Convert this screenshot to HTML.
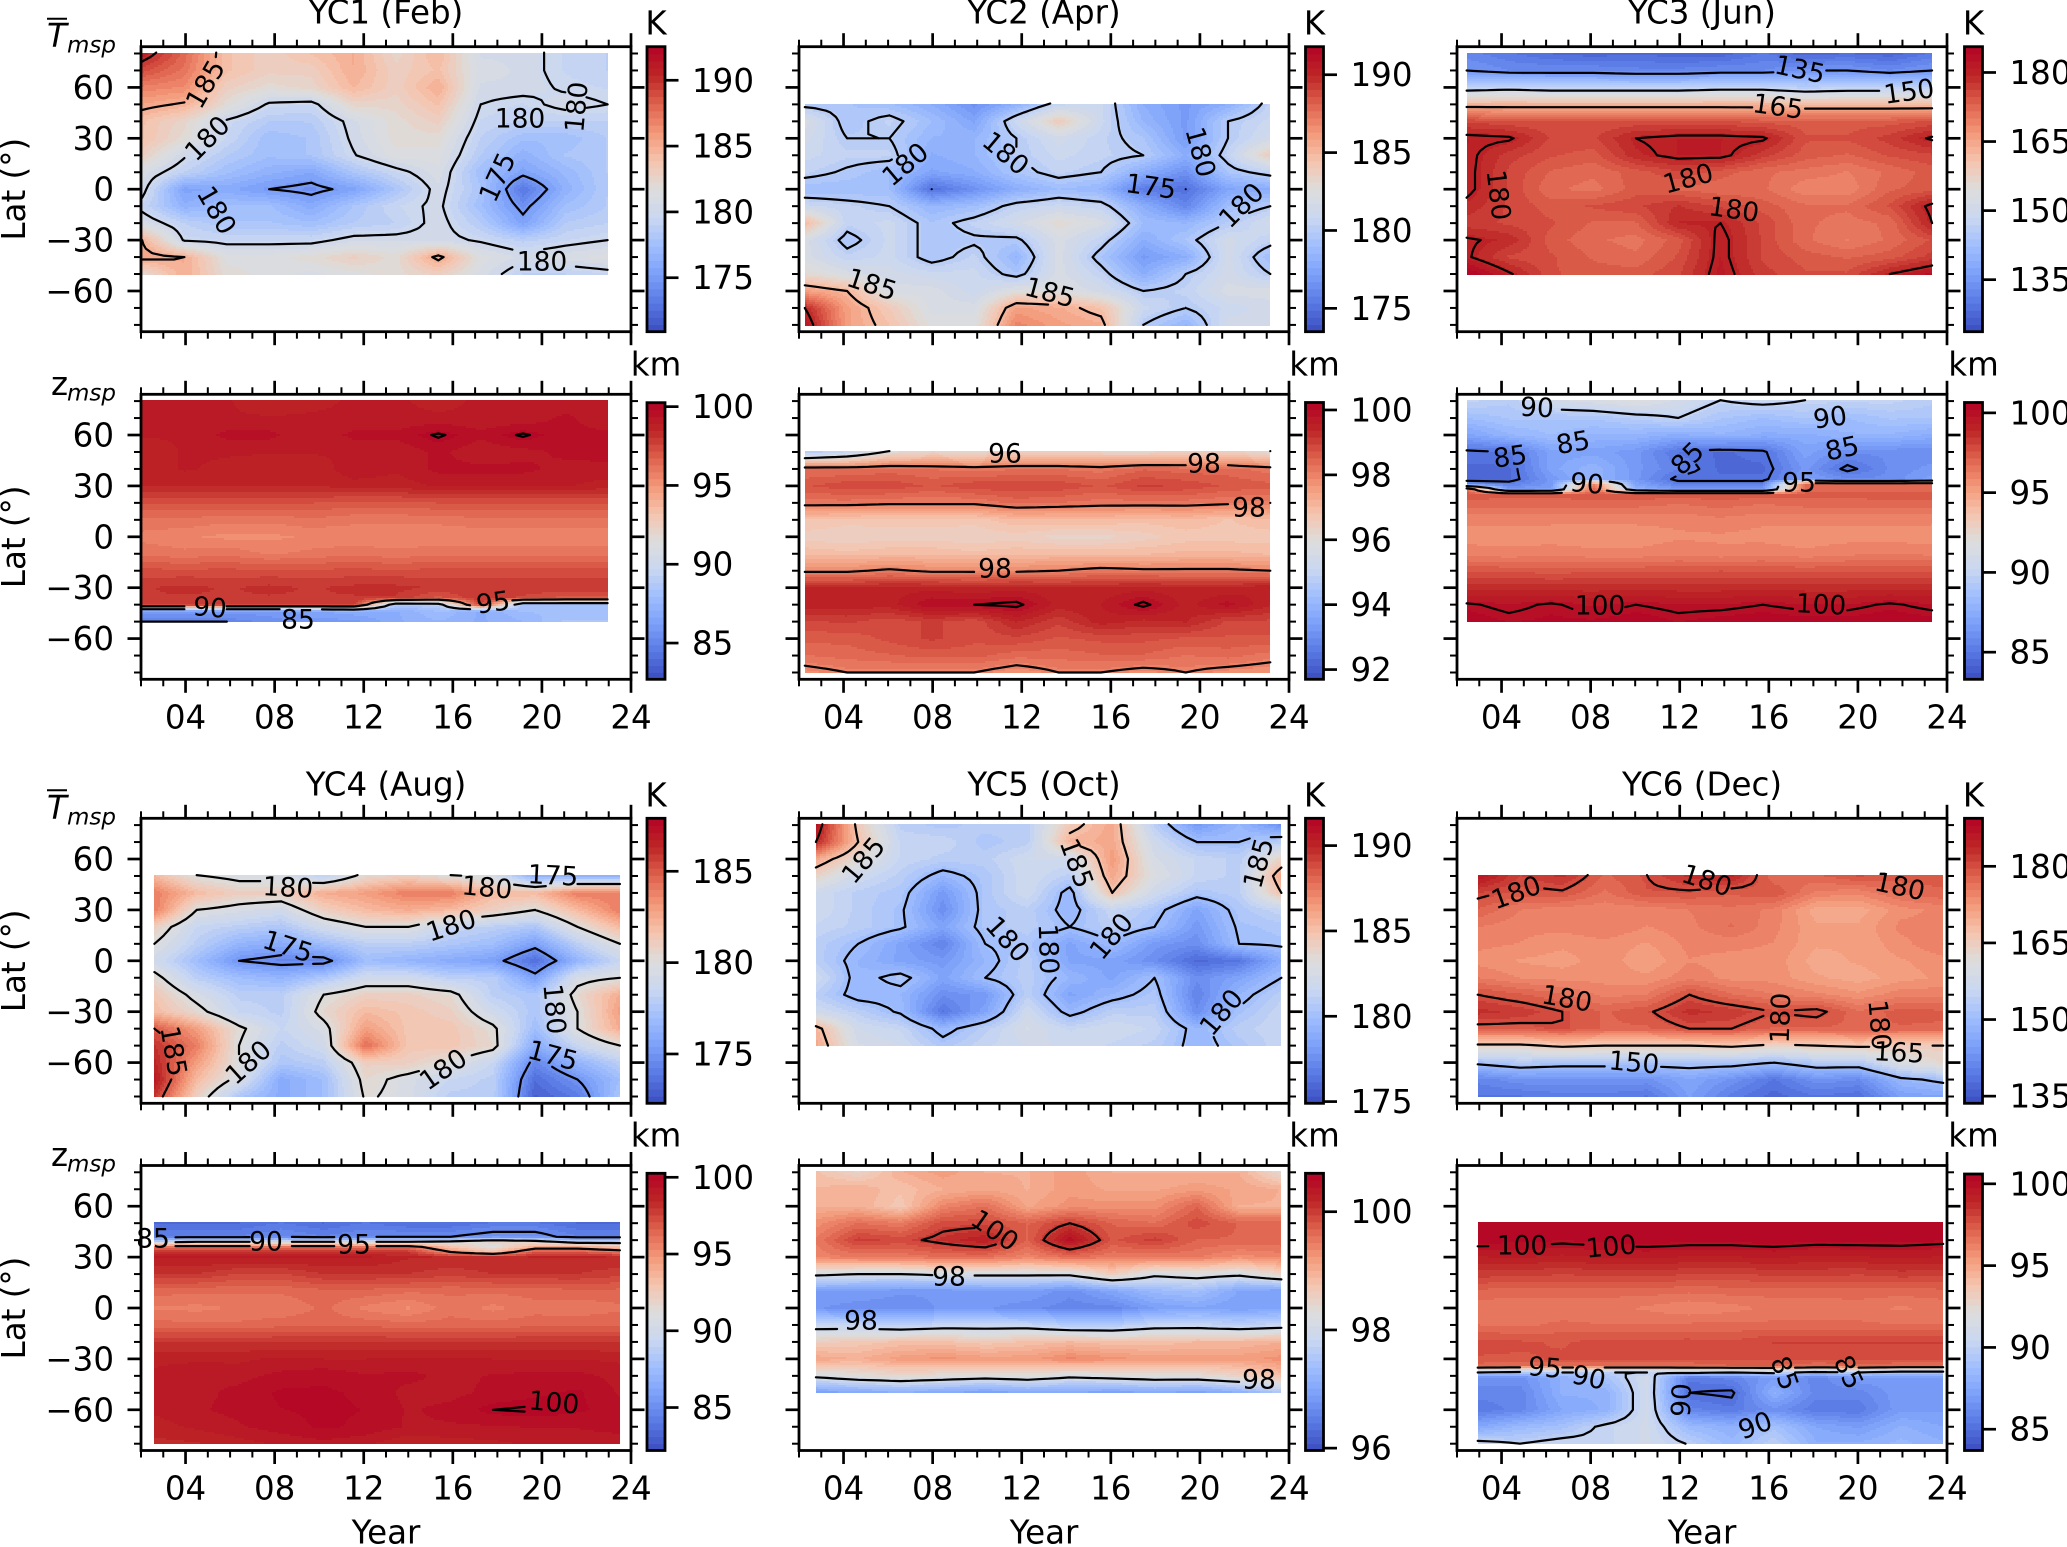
<!DOCTYPE html>
<html lang="en"><head><meta charset="utf-8"><title>Mesopause temperature and height by year and latitude</title>
<style>html,body{margin:0;padding:0;background:#fff}svg{display:block}text{font-family:"DejaVu Sans","Liberation Sans",sans-serif;fill:#000}</style></head>
<body>
<svg id="figure" xmlns="http://www.w3.org/2000/svg" width="2067" height="1547" viewBox="0 0 2067 1547"></svg>
<script>
// ---------- latitude rows (degrees) ----------
const latsNorth = [80.5,70,60,50,40,30,20,10,0,-10,-20,-30,-40,-50];
const latsSouth = [50.5,40,30,20,10,0,-10,-20,-30,-40,-50,-60,-70,-80];
const latsHeightFeb = [80.5,70,60,50,40,30,20,10,0,-10,-20,-30,-36,-40,-44,-50];
const latsHeightJun = [80.5,70,60,50,40,34,31,28,25,20,10,0,-10,-20,-30,-40,-50];
const latsHeightAug = [50.5,42,39,36,33,30,20,10,0,-10,-20,-30,-40,-50,-60,-70,-80];
const latsHeightDec = [50.5,40,30,20,10,0,-10,-20,-30,-34,-38,-41,-50,-60,-70,-80];

// ---------- axis tick labels ----------
const yearTicks = [2004,2008,2012,2016,2020,2024];
const yearTickLabels = ['04','08','12','16','20','24'];
const latTicks = [60,30,0,-30,-60];
const latTickLabels = ['60','30','0','\u221230','\u221260'];

// ---------- values: one row per latitude, 12 columns spanning the record ----------
const tempFeb = [
[191,188,184,183,184,185,182.5,184.5,180.5,180.5,179.5,179],
[189,187.5,184,183,183,185,183,184,181,180.5,179.5,179],
[187,186.5,183,182,182.5,184.5,183,185,180.5,180.5,179.8,179.5],
[185.5,184.8,182,179.8,179.5,182.5,182.5,184,180,179.5,180.5,180],
[184,182.5,179.8,178.5,178.5,180.5,182,183,179.5,179,179,179],
[184,182,179.5,177.5,178,180.3,182,182,179,177.5,177.5,178.5],
[183,180.2,178.5,177.5,178,179.9,181.5,181.5,178.5,176.5,178,178.5],
[181,179,177.5,176.5,175.8,178,179.5,181,177.5,175.5,177,178.5],
[180.5,175.5,176,175,174.5,175.5,178,180.5,178,173,176.5,178.5],
[179.5,176.5,177.5,177.5,176,178,179.5,180.3,177.5,174.5,177.5,178.5],
[181,179,178,178,177.5,178.5,179,180.5,178.5,175.5,178.5,179],
[185,179.8,179.5,179.5,179.5,180.5,180.5,180.5,179.8,178.8,179.5,180],
[185.5,185,181.5,181.5,182,183,182,185.5,181.5,180.5,181,181.5],
[182,185,182,181.5,181,181.5,182,183,181,179,179,179.5]];
const tempApr = [
[179.5,179.5,179,178,176.5,178,180.5,181,178,177,178,180.5],
[182,179.5,180.5,179,177.5,181,184,181,178.5,177,180,181],
[181.5,180,180,178.5,178.5,180,181.5,180.5,179.5,177,180,181.5],
[181,180.5,180.5,178,178.5,180,181,180.5,180,178,180.5,184],
[180.5,179.8,179,177.5,178,179.5,180.5,180,178,176.5,179.5,180.5],
[179,179,179,175,176.5,178,179,178.5,175.5,175,177.5,178],
[181,180.5,180,178.5,179,180.5,181,180.5,178,176,179,180],
[185,180.5,181,179.5,180.5,181.5,183,182,179,178.5,180,181.5],
[182,179.5,181,179.5,179.8,179.7,182,180.5,178,179.5,181.5,180.5],
[182,180.5,181,179.5,180.5,178.5,182,179.5,177,178,181.5,179],
[183,182,181.5,181,181,179.5,182,180.5,178,180,181.5,180],
[186,185,182,182,181,182.5,182.5,181.5,180,180.5,182,182],
[190,186,184,182,182,186,185.5,184.5,181,180,181,181.5],
[191,186,184.5,182.5,182.5,187,186,185.5,180,178.5,181.5,181.5]];
const tempJun = [
[132,130,128,127,128,127,127,130,127,128,127,130],
[135,133,133,133,132,132,133,133,135,135,133,135],
[147,148,147,147,147,147,148,148,146,147,147,147],
[163,163,163,163,163,163,163,163,162,162,162,162],
[176,175,175,175,175,175,175,174,174,174,174,175],
[181,180.5,176,176,180,181,181,180.5,175,175,177,180.5],
[181,177,175,174,179,181,181,177,174,173,175,176],
[181,176,173,172,174,176,174,172,171,170,172,174],
[181,176,172,171,174,173,172,172,169,169,173,174],
[179,176,174,175,176,178,176,174,172,172,175,181],
[177,176,175,173,173,179.5,180,176,172,171,172,180],
[180.5,179,174,172,171,174,181,176,172,170,172,175],
[180.5,176,175,173,172,175,181,176,174,173,174,177],
[186,180.5,175,174,174,176,181.5,177,175,175,180,183]];
const heightFeb = [
[99,99,99,98.5,98.8,99,99,98.8,99,99,99,99],
[99,99,99,99,99,99,99,99,99,99,99.5,99],
[99,99,99.5,99.5,99,99.5,99.5,100.1,99.5,100.1,99.5,99.5],
[98.5,99,99,99,99,99,99,99.5,99,99.2,99.5,99.5],
[98.5,99,98.8,98.5,98.5,99.3,99,99.5,99.5,99.5,99.2,99.3],
[98.5,98.5,98.5,98.5,98.5,98.7,98.7,99,99,99,99,98.7],
[97.2,97.2,97.2,97.2,97.2,97,97,97.2,97.2,97.2,97.2,97.2],
[96.2,96.2,96,96,96.2,96,96,96,96.2,96.2,96.2,96.2],
[95.7,95.5,95.3,95.3,95.5,95.5,95.5,95.5,95.5,95.5,95.5,95.5],
[96.2,96,96.2,95.8,96,96.2,96,96.2,96.2,96.2,96.2,96.2],
[97.3,97.3,97.3,97.3,97.3,97.3,97.3,97.3,97.3,97.3,97.3,97.3],
[98,98.2,98,98.2,98,98.2,98.2,98,98,98,98,98],
[98,98,98,98,98,98,98,97,98,97.5,97,97],
[98,98,98,98,98,98,88.5,89,98,88,88,88],
[86,86,86,86,86.5,87,87,88,87,88,88,88],
[85,85,85,85.5,86,86,87,87.5,87,87.5,88.5,88.5]];
const heightApr = [
[94.5,95,96,96.3,96.2,96.5,96.5,96.3,96.2,96.5,96.5,96],
[98.3,98.3,98.4,98.3,98.2,98.3,98.3,98.2,98.5,98.4,98.4,98.2],
[98.7,98.9,98.9,98.7,98.9,98.9,98.9,98.7,99,98.9,98.7,98.6],
[98.2,98.2,98.1,98.1,98.1,98.4,98.3,98.2,98.2,98.2,98.1,98],
[96.8,96.7,96.7,96.7,96.7,97,97,97,96.9,97,96.8,97],
[96.5,96.4,96.5,96.5,96.4,96.5,96.3,96.3,96.5,96.7,96.7,96.7],
[97,96.9,97,97,96.9,97,97,97,97,97.1,97.1,97],
[97.9,97.9,98.1,97.9,97.9,97.9,98,98.2,98.1,98.1,98.1,98],
[99.4,99.4,99.5,99.5,99.4,99.5,99.4,99.4,99.5,99.4,99.4,99.6],
[99.5,99.5,99.5,100,100,100.1,99.5,99.6,100.1,99.5,99.9,99.4],
[98.9,99,98.8,99,98.8,99.4,99,99.5,99.3,99.4,98.9,98.9],
[98.6,98.6,98.8,99,98.8,98.9,98.7,98.8,98.8,98.7,98.7,98.7],
[98.3,98.4,98.5,98.6,98.6,98.4,98.4,98.5,98.5,98.3,98.4,98.2],
[97.8,98,98,98,98,97.7,98,98,97.8,98,97.8,97.7]];
const heightJun = [
[90,89.5,91,91.5,92,91,90,90.5,90,90,90,89.5],
[88.5,89,89,89,89.5,90,89,88.5,89,88.5,89,89],
[87,88,88.5,88,88,87.5,88,87.5,87.5,88,88,87.5],
[84.8,85,87,87,86.5,85,84.5,84.8,87,86,86,86],
[84.5,84.5,87,88,86.5,85.5,84.5,84.5,86.5,84.7,86,86.5],
[84.5,84.5,86.5,88,86.5,84.7,84.7,84.7,87,86,86,87],
[86,85.5,86.5,96,87,85.5,85.5,85.5,97,97,97,97],
[97,86.5,87,97,88,86.5,86.5,86.5,97,97,97,97],
[97.5,97.3,97.3,97.5,97.5,97.5,97.5,97.5,97.3,97.3,97.5,97.5],
[97,97,97,97,97,96.8,97,96.8,97,97,97,97],
[96,96,96,96,96,96,96.2,96,96,96,96,96],
[95.6,95.7,95.6,95.6,95.6,95.8,95.8,95.7,95.6,95.7,95.7,95.6],
[96.2,96,96.2,96,96,96.2,96,96.2,96,96.2,96.3,96.2],
[97.5,97.5,97.4,97.5,97.5,97.5,97.6,97.5,97.5,97.5,97.5,97.5],
[98.7,98.8,98.7,98.7,98.8,98.7,98.7,98.8,98.7,98.7,98.8,98.8],
[100.1,99.8,100.1,99.7,100,99.8,99.8,100,99.8,99.8,100.1,99.8],
[100.5,100.2,100.3,100.3,100.5,100.2,100.4,100.5,100.4,100.4,100.5,100.4]];
const tempAug = [
[182,180,179.5,179.5,178,180.5,181,180,179.5,176,176,176],
[184,182,181,181,182.5,183,184,184,182,182,184,184],
[184,180,179.5,179,181,182,182.5,182,181,180,182,184],
[181,178.5,178,177.5,179,180,180,178.5,178,177.5,180,182],
[180,178,176.5,176,177,178,178,177.5,177,175.5,178,180],
[179,177,175,174.5,174.5,177,176.5,176,175.5,173.5,176.5,178.5],
[180.5,178,177,176.5,177.5,179,179,178,178,175.5,179.5,180],
[181.5,179.5,178,178,180,181,181,180.5,178,177.5,180.5,182.5],
[182,180.5,178.5,178,180.5,182,181.5,181,179,177.5,180,183],
[185,183,180.3,178.5,179.5,183,181.5,181.5,180.3,177,180,182.5],
[186,184,180,178,179,184.5,181.5,181.5,180.5,176,178.5,180],
[186.5,183,180,177.5,178,181,181,180,178.5,174.5,176.5,178],
[187,182,179.5,176,177,180.5,179.5,178.5,178,173.5,175,177],
[186,181,177.5,176,177,180.2,179.5,178,178,173,174,177.5]];
const tempOct = [
[191,184.5,181,180.5,181,181,184.5,186,181,178,179.5,177.5],
[190,185,181.5,181.5,180.5,181,185.5,186,182,180,180,181],
[186,183.5,181.5,181,181,182,182,186.5,182.5,181.5,181,184],
[184,182,181,179.5,180.5,182,181,186,183,181.5,181,186],
[182,181,180.5,178,180.5,182,179.5,185,182,180.5,181,185],
[182,181,180.2,177.5,180.5,181,179.5,181.5,180.5,178.5,180.5,181.5],
[181.5,181,180.2,178.5,180.5,181,180,181,180,178,180.2,180.5],
[181,180,178.5,177,180,180.5,178.5,179.8,178,177.5,180,180.2],
[181,179.5,178.5,178,179.5,181,178.5,178.5,177.5,176,176.5,179],
[182,179.5,180.5,178.5,180,181,179.5,178.5,180,177.5,178.5,180],
[181,179.5,179.5,177.5,178,181,178.5,179.5,180.5,177,179.5,181],
[182,181,179.8,176.5,178.5,182,179.5,181,181,177.5,180.2,181.5],
[185.5,182,181.5,179.5,181,182.5,181.5,182,181.5,179.5,181,181.5],
[186,182.5,182,180.5,181.5,182,182,181.5,181,179.5,180.5,181.5]];
const tempDec = [
[187,181,183,178,180,183,184.5,177,178,180,179,179],
[181,179,179.5,176.5,179.5,179.5,178.5,179.5,175,174.5,177,178],
[178,175.5,174.5,174.5,174.5,175.5,176.5,175,170.5,170.5,173.5,174.5],
[175.5,174.5,174.5,175.5,174,175,177,174.5,171.5,171.5,174.5,174.5],
[174.5,174,173,173.5,172.5,174.5,174.5,174,171.5,171.5,173.5,175.5],
[173.5,172.5,172,173.5,171.5,174,173.5,173.5,170.5,171.5,172.5,173.5],
[175.5,174,173.5,173.5,173,175,173.5,173.5,171.5,170.5,172,173],
[180,178.5,177,175,175.5,180,177,175.5,174.5,173,175,175],
[183,182,180,178,179.5,183,182,180,181,177,179,178.5],
[179,179,180,178,178,180,180,178,178,178,178,178],
[164,164,166,165,165,165,166,164,165,166,165,165],
[151,153,152,152,152,152,152,150,153,153,160,163],
[141,143,143,143,143,146,143,139,143,142,149,151],
[139,139,140,140,139,145,140,137,139,138,145,146]];
const heightAug = [
[83.5,83.5,83.5,84,83.5,84,83.5,83.5,84,84,83.5,83.5],
[84.5,84.5,84.5,85,84.5,85,85,85,85.5,85.5,84.5,84.5],
[89,90,90,90,90,90,90,90.5,92,91,89,89],
[96,96,96,96,96,96,96,93,91,94,94,93],
[98,98,98,98,98,98,98,95,93,97,97,96],
[99,99,99,99,99,99,98.5,98.5,98.5,98.5,98.5,98.5],
[98,98,97.5,97.5,98,98,98,97.7,98,98,98,97.7],
[96.4,96.3,96.3,96.3,96.5,96.5,96.3,96.3,96.3,96.4,96.5,96.5],
[95.7,95.6,95.8,95.8,96.3,95.6,95.2,96,95.6,96,95.9,96.1],
[96.4,96.3,96.3,96.5,96.5,96.5,96.4,96.4,96.4,96.5,96.5,96.6],
[98,98,98,98,98,98,98,98,98,98,98,98],
[98.8,98.8,98.8,99,98.9,98.9,99,99,98.9,98.9,98.9,98.8],
[99,99.3,99.2,99.5,99.7,99.4,99.5,99.2,99.4,99.5,99.5,99.2],
[99.1,99.2,99.5,99.9,99.9,99.7,99.2,99.2,99.5,99.7,99.9,99.3],
[99,99.3,99.5,99.8,99.9,99.8,99.3,99.5,100,100.1,99.9,99.6],
[98.7,99,99.3,99.6,99.9,99.7,99.3,99.3,99.3,99.4,99.4,99.6],
[98.3,98.4,98.7,99,99.2,99,98.5,98.7,98.8,99,99,99]];
const heightOct = [
[98.8,98.5,99,99.2,99,99,99.2,99,99,99,99,98.4],
[98.9,99,98.8,99,99.1,99,99.2,99.1,99.1,99.2,99.1,99],
[99,99,98.7,99.4,99.6,99.1,99.3,99.3,99.3,99.7,99,99],
[99.3,99.6,99.5,99.9,99.9,99.7,100,99.7,99.6,99.9,99.7,99.7],
[99.5,100,99.9,100.1,100.3,99.7,100.5,99.8,100,99.7,99.7,99.7],
[99.4,99.5,99.5,99.6,99.6,99.4,99.6,99.5,99.5,99.5,99.3,99.4],
[98.1,98,98,98.1,98.1,98.1,98.1,98.6,98.1,98.2,98.1,98.5],
[96.9,96.9,96.8,96.8,96.9,96.9,96.7,97,97.3,97.4,97,96.9],
[96.8,96.7,96.7,96.8,96.8,96.7,96.6,96.6,96.9,97,96.9,97],
[97.8,97.8,97.7,97.8,97.8,97.8,97.6,97.6,97.8,97.8,97.7,97.8],
[98.6,98.7,98.8,98.8,98.7,98.8,98.9,98.8,98.8,98.9,98.9,99],
[99.1,99,99.2,99.3,99.2,99.2,99.4,99.3,99.2,99.2,99.2,99.3],
[98.1,98.3,98.4,98.3,98.2,98.3,98.1,98.2,98.3,98.3,98.5,98.8],
[96.9,97,97.1,97,96.9,97,97,96.9,97,96.9,97.1,97.5]];
const heightDec = [
[100.3,100.6,100.4,100.5,100.6,100.6,100.6,100.6,100.6,100.5,100.2,100.3],
[100.4,100.3,100.2,100.3,100.4,100.3,100.3,100.4,100.3,100.3,100.3,100.2],
[99.3,99.4,99.2,99.4,99.4,99.3,99.3,99.4,99.2,99.3,99.4,99.3],
[98.3,98.2,98.1,98.2,98.2,98.1,98,98.2,98.2,98.1,98.3,98.2],
[97.1,97,97,97,97,96.9,97,97,97,97.1,97,97.1],
[96.5,96.5,96.5,96.5,96.3,96,96.2,96.5,96.5,96.5,96.3,96.5],
[96.8,96.7,96.9,96.8,96.8,96.9,96.9,96.9,96.9,96.9,96.8,96.8],
[97.8,97.7,97.6,97.8,97.8,97.8,97.7,98.1,98.1,98.1,98.1,98.1],
[97.6,97.6,97.7,97.8,97.8,97.8,97.8,97.8,97.8,97.8,97.8,97.8],
[97,96.8,96.8,96.8,96.8,96.8,97.2,97.2,96.8,97,96.8,96.8],
[90,89.5,90,90,90,90.5,90,90.5,89.5,90,89,89],
[86.5,86.5,88,89,91,85.5,86,87,86,87,87,87],
[86,86,88,88,91,85,84.8,88,86,86,87,87],
[85.5,86,87.5,88,91,86,85.5,86.5,85.5,85.5,87,87],
[87.5,88.5,89,90.3,91,88.5,88,89,87.5,87,88,87.5],
[90.5,90,90.5,90.3,91,89.9,88.5,90,88,88,88.5,88]];

// ---------- colour-bar ticks and contour levels ----------
const cbTicksTempFeb = [190,185,180,175];
const cbTicksTempApr = [190,185,180,175];
const cbTicksTempJun = [180,165,150,135];
const cbTicksHeightFeb = [100,95,90,85];
const cbTicksHeightApr = [100,98,96,94,92];
const cbTicksHeightJun = [100,95,90,85];
const cbTicksTempAug = [185,180,175];
const cbTicksTempOct = [190,185,180,175];
const cbTicksTempDec = [180,165,150,135];
const cbTicksHeightAug = [100,95,90,85];
const cbTicksHeightOct = [100,98,96];
const cbTicksHeightDec = [100,95,90,85];

// ---------- printed contour labels: [text, page x, page y, rotation] ----------
const labelsTempFeb = [['185',205,84,-60],['180',207,138,-45],['180',217,210,60],['180',520,118,0],['180',576,107,-85],['175',497,177,-65],['180',542,261,0]];
const labelsTempApr = [['180',905,164,-40],['180',1006,153,40],['180',1201,152,75],['175',1151,186,8],['180',1241,205,-45],['185',872,284,18],['185',1050,292,15]];
const labelsTempJun = [['135',1800,69,12],['150',1909,91,-8],['165',1778,106,8],['180',1688,178,-15],['180',1734,209,8],['180',1499,195,83]];
const labelsHeightFeb = [['90',210,607,5],['85',298,619,0],['95',493,602,-8]];
const labelsHeightApr = [['96',1005,453,0],['98',1204,463,0],['98',1249,507,0],['98',995,568,0]];
const labelsHeightJun = [['90',1537,407,3],['90',1830,417,-8],['85',1510,456,-8],['85',1573,442,-10],['85',1687,458,-45],['85',1842,448,-12],['90',1587,483,5],['95',1799,482,0],['100',1600,605,0],['100',1821,604,3]];
const labelsTempAug = [['180',288,887,3],['180',487,887,5],['175',553,875,3],['180',451,925,-18],['175',288,946,18],['180',555,1009,85],['185',174,1051,80],['180',248,1062,-42],['180',443,1069,-35],['175',553,1055,15]];
const labelsTempOct = [['185',863,860,-50],['185',1077,863,70],['185',1258,863,-75],['180',1008,939,48],['180',1049,949,88],['180',1111,936,-50],['180',1221,1012,-50]];
const labelsTempDec = [['180',1516,892,-20],['180',1707,880,18],['180',1900,886,12],['180',1567,998,10],['180',1780,1018,-88],['180',1880,1025,85],['165',1899,1052,3],['150',1634,1062,5]];
const labelsHeightAug = [['85',153,1238,0],['90',266,1241,0],['95',354,1244,0],['100',554,1402,5]];
const labelsHeightOct = [['100',995,1230,35],['98',949,1276,0],['98',861,1320,0],['98',1259,1379,0]];
const labelsHeightDec = [['100',1522,1245,0],['100',1611,1246,-5],['95',1545,1367,5],['90',1589,1377,12],['85',1785,1373,70],['85',1849,1372,65],['90',1681,1400,-88],['90',1755,1425,-20]];

// ---------- panel layout ----------
const COL_LEFT = [141,799,1457];
const ROW_TOP = [46.7,394.3,818.3,1165.5];
const AX_W = 490, AX_H = 285, YEAR0 = 2002, YEAR1 = 2024, LAT_MAX = 84;
const CB_LEFT = [647,1305.5,1964.5], CB_W = 18;
const panels = [
 {key:'temp-feb',col:0,row:0,title:'YC1 (Feb)',unit:'K',start:2002.05,lats:latsNorth,values:tempFeb,levels:[175,180,185,190],vmin:170.9,vmax:192.55,cbTop:46.7,cbTicks:cbTicksTempFeb,labels:labelsTempFeb},
 {key:'temp-apr',col:1,row:0,title:'YC2 (Apr)',unit:'K',start:2002.26,lats:latsSouth,values:tempApr,levels:[175,180,185,190],vmin:173.5,vmax:191.8,cbTop:46.7,cbTicks:cbTicksTempApr,labels:labelsTempApr},
 {key:'temp-jun',col:2,row:0,title:'YC3 (Jun)',unit:'K',start:2002.43,lats:latsNorth,values:tempJun,levels:[135,150,165,180],vmin:123.7,vmax:185.6,cbTop:46.7,cbTicks:cbTicksTempJun,labels:labelsTempJun},
 {key:'height-feb',col:0,row:1,unit:'km',start:2002.05,lats:latsHeightFeb,values:heightFeb,levels:[85,90,95,100],vmin:82.7,vmax:100.25,cbTop:402.7,cbTicks:cbTicksHeightFeb,labels:labelsHeightFeb},
 {key:'height-apr',col:1,row:1,unit:'km',start:2002.26,lats:latsSouth,values:heightApr,levels:[92,94,96,98,100],vmin:91.7,vmax:100.23,cbTop:402.5,cbTicks:cbTicksHeightApr,labels:labelsHeightApr},
 {key:'height-jun',col:2,row:1,unit:'km',start:2002.43,lats:latsHeightJun,values:heightJun,levels:[85,90,95,100],vmin:83.3,vmax:100.65,cbTop:402.5,cbTicks:cbTicksHeightJun,labels:labelsHeightJun},
 {key:'temp-aug',col:0,row:2,title:'YC4 (Aug)',unit:'K',start:2002.6,lats:latsSouth,values:tempAug,levels:[175,180,185],vmin:172.3,vmax:187.9,cbTop:818.3,cbTicks:cbTicksTempAug,labels:labelsTempAug},
 {key:'temp-oct',col:1,row:2,title:'YC5 (Oct)',unit:'K',start:2002.76,lats:latsNorth,values:tempOct,levels:[175,180,185,190],vmin:174.9,vmax:191.6,cbTop:818.3,cbTicks:cbTicksTempOct,labels:labelsTempOct},
 {key:'temp-dec',col:2,row:2,title:'YC6 (Dec)',unit:'K',start:2002.93,lats:latsSouth,values:tempDec,levels:[135,150,165,180],vmin:133.6,vmax:189.4,cbTop:818.3,cbTicks:cbTicksTempDec,labels:labelsTempDec},
 {key:'height-aug',col:0,row:3,unit:'km',start:2002.6,lats:latsHeightAug,values:heightAug,levels:[85,90,95,100],vmin:82.2,vmax:100.26,cbTop:1173.3,cbTicks:cbTicksHeightAug,labels:labelsHeightAug},
 {key:'height-oct',col:1,row:3,unit:'km',start:2002.76,lats:latsNorth,values:heightOct,levels:[96,98,100],vmin:95.96,vmax:100.65,cbTop:1173.3,cbTicks:cbTicksHeightOct,labels:labelsHeightOct},
 {key:'height-dec',col:2,row:3,unit:'km',start:2002.93,lats:latsHeightDec,values:heightDec,levels:[85,90,95,100],vmin:83.7,vmax:100.6,cbTop:1174,cbTicks:cbTicksHeightDec,labels:labelsHeightDec}
];
const YEAR_SPAN = 20.9, BANDS = 40, FS = 32.5, LABEL_FS = 26.5;
const COOLWARM = [[59,76,192],[88,120,226],[123,159,249],[160,190,254],[201,215,240],[221,221,221],[245,196,173],[244,152,122],[222,97,77],[189,37,38],[180,4,38]];

const NS = 'http://www.w3.org/2000/svg';
const fig = document.getElementById('figure');
function mk(tag, parent, attrs){
  const el = document.createElementNS(NS, tag);
  for (const k in attrs) el.setAttribute(k, attrs[k]);
  parent.appendChild(el);
  return el;
}
function colorAt(t){
  t = Math.max(0, Math.min(1, t)) * (COOLWARM.length - 1);
  const i = Math.min(COOLWARM.length - 2, Math.floor(t)), f = t - i;
  const c = COOLWARM[i].map((v, k) => Math.round(v + (COOLWARM[i + 1][k] - v) * f));
  return 'rgb(' + c.join(',') + ')';
}
function bandColor(v, vmin, vmax){
  const t = (v - vmin) / (vmax - vmin);
  const b = Math.max(0, Math.min(BANDS - 1, Math.floor(t * BANDS)));
  return colorAt((b + 0.5) / BANDS);
}
function sampleAt(p, colF, lat){
  const lats = p.lats, vals = p.values;
  let r = 0;
  while (r < lats.length - 2 && lat < lats[r + 1]) r++;
  const ft = Math.max(0, Math.min(1, (lats[r] - lat) / (lats[r] - lats[r + 1])));
  const nC = vals[0].length;
  const c = Math.max(0, Math.min(nC - 2, Math.floor(colF)));
  const fc = Math.max(0, Math.min(1, colF - c));
  const a = vals[r][c], b = vals[r][c + 1], d = vals[r + 1][c], e = vals[r + 1][c + 1];
  return (a * (1 - fc) + b * fc) * (1 - ft) + (d * (1 - fc) + e * fc) * ft;
}

function drawPanel(p){
  const left = COL_LEFT[p.col], top = ROW_TOP[p.row], right = left + AX_W, bottom = top + AX_H;
  const xAxis = y => left + (y - YEAR0) / (YEAR1 - YEAR0) * AX_W;
  const yAxis = l => top + AX_H / 2 - l / (2 * LAT_MAX) * AX_H;
  const invLat = py => (top + AX_H / 2 - py) / AX_H * 2 * LAT_MAX;
  const nC = p.values[0].length;
  const colToYear = c => p.start + YEAR_SPAN * c / (nC - 1);
  const yearToCol = y => (y - p.start) / YEAR_SPAN * (nC - 1);

  const g = mk('g', fig, {});
  
  

  // filled field: horizontal runs of equal colour band
  const hg = mk('g', g, {'shape-rendering':'crispEdges'});
  
  
  const x0 = Math.round(xAxis(p.start)), x1 = Math.round(xAxis(p.start + YEAR_SPAN));
  const y0 = Math.round(yAxis(p.lats[0])), y1 = Math.round(yAxis(p.lats[p.lats.length - 1]));
  const STEP = 2;
  const invYear = px => YEAR0 + (px - left) / AX_W * (YEAR1 - YEAR0);
  const addCell = (x, y, w, color) => {
    const cell = mk('rect', hg, {x:x, y:y, width:w, height:STEP, fill:color});
    
    
  };
  for (let py = y0; py < y1; py += STEP){
    const lat = invLat(py + STEP / 2);
    let runStart = x0, runColor = null;
    for (let px = x0; px < x1; px += STEP){
      const col = bandColor(sampleAt(p, yearToCol(invYear(px + STEP / 2)), lat), p.vmin, p.vmax);
      if (col !== runColor){
        if (runColor !== null) addCell(runStart, py, px - runStart, runColor);
        runStart = px; runColor = col;
      }
    }
    if (runColor !== null) addCell(runStart, py, x1 - runStart, runColor);
  }

  // contours by marching squares on a refined grid
  const SUB = 4, latF = [], colF = [];
  for (let i = 0; i < p.lats.length - 1; i++) for (let s = 0; s < SUB; s++) latF.push(p.lats[i] + (p.lats[i + 1] - p.lats[i]) * s / SUB);
  latF.push(p.lats[p.lats.length - 1]);
  for (let c = 0; c <= (nC - 1) * SUB; c++) colF.push(c / SUB);
  const F = latF.map(l => colF.map(c => sampleAt(p, c, l)));
  const hidden = (mx, my) => p.labels.some(L => {
    const a = L[3] * Math.PI / 180, dx = mx - L[1], dy = my - L[2];
    const u = dx * Math.cos(a) + dy * Math.sin(a), v = -dx * Math.sin(a) + dy * Math.cos(a);
    return Math.abs(u) < L[0].length * LABEL_FS * 0.318 + 4 && Math.abs(v) < 12;
  });
  p.levels.forEach(level => {
    const L = level + 1e-6;
    let d = '';
    for (let r = 0; r < latF.length - 1; r++) for (let c = 0; c < colF.length - 1; c++){
      const v = [F[r][c], F[r][c + 1], F[r + 1][c + 1], F[r + 1][c]];
      const P = [[colF[c], latF[r]], [colF[c + 1], latF[r]], [colF[c + 1], latF[r + 1]], [colF[c], latF[r + 1]]];
      const pts = [];
      for (let e = 0; e < 4; e++){
        const a = v[e], b = v[(e + 1) % 4];
        if ((a < L) !== (b < L)){
          const t = (L - a) / (b - a), A = P[e], B = P[(e + 1) % 4];
          pts.push([xAxis(colToYear(A[0] + (B[0] - A[0]) * t)), yAxis(A[1] + (B[1] - A[1]) * t)]);
        }
      }
      const segs = pts.length === 2 ? [[pts[0], pts[1]]] : pts.length === 4 ? [[pts[0], pts[3]], [pts[1], pts[2]]] : [];
      segs.forEach(s => {
        if (!hidden((s[0][0] + s[1][0]) / 2, (s[0][1] + s[1][1]) / 2))
          d += 'M' + s[0][0].toFixed(1) + ' ' + s[0][1].toFixed(1) + 'L' + s[1][0].toFixed(1) + ' ' + s[1][1].toFixed(1);
      });
    }
    const line = mk('path', g, {d:d, fill:'none', stroke:'#000', 'stroke-width':2.2, 'stroke-linecap':'round'});
    
    
  });

  // contour labels
  p.labels.forEach(L => {
    const t = mk('text', g, {'text-anchor':'middle', 'font-size':LABEL_FS, y:9.5, transform:'translate(' + L[1] + ' ' + L[2] + ') rotate(' + L[3] + ')'});
    t.textContent = L[0];
    
    
  });

  // minor and major ticks on all four sides
  for (let y = YEAR0; y <= YEAR1; y++){
    const major = yearTicks.includes(y), len = major ? 13.5 : 7, w = major ? 2.7 : 2, x = xAxis(y);
    [[top, top - len], [bottom, bottom + len]].forEach(e => {
      const tick = mk('line', g, {x1:x, x2:x, y1:e[0], y2:e[1], stroke:'#000', 'stroke-width':w});
      
      
    });
  }
  for (let l = -80; l <= 80; l += 10){
    const major = latTicks.includes(l), len = major ? 13.5 : 7, w = major ? 2.7 : 2, y = yAxis(l);
    [[left, left - len], [right, right + len]].forEach(e => {
      const tick = mk('line', g, {x1:e[0], x2:e[1], y1:y, y2:y, stroke:'#000', 'stroke-width':w});
      
      
    });
  }
  const frame = mk('rect', g, {x:left, y:top, width:AX_W, height:AX_H, fill:'none', stroke:'#000', 'stroke-width':2.8});
  
  

  // tick labels and axis titles
  if (p.row % 2 === 1){
    yearTicks.forEach((y, i) => {
      const t = mk('text', g, {x:xAxis(y), y:bottom + 49, 'text-anchor':'middle', 'font-size':FS});
      t.textContent = yearTickLabels[i];
      
      
    });
  }
  if (p.row === 3){
    const t = mk('text', g, {x:left + AX_W / 2, y:bottom + 93, 'text-anchor':'middle', 'font-size':FS});
    t.textContent = 'Year';
    
    
  }
  if (p.col === 0){
    latTicks.forEach((l, i) => {
      const t = mk('text', g, {x:114, y:yAxis(l) + 11.5, 'text-anchor':'end', 'font-size':FS});
      t.textContent = latTickLabels[i];
      
      
    });
    const yl = mk('text', g, {'text-anchor':'middle', 'font-size':FS, transform:'translate(25 ' + (top + AX_H / 2) + ') rotate(-90)'});
    yl.textContent = 'Lat (\u00b0)';
    
    
    const isTemp = p.row % 2 === 0;
    const sym = mk('text', g, {x:isTemp ? 47 : 51, y:top + 0.5, 'font-size':FS, 'font-style':isTemp ? 'italic' : 'normal'});
    sym.textContent = isTemp ? 'T' : 'z';
    
    
    const sub = mk('text', g, {x:67, y:top + 6, 'font-size':23, 'font-style':'italic'});
    sub.textContent = 'msp';
    
    
    if (isTemp){
      const bar = mk('line', g, {x1:47, x2:67, y1:top - 28, y2:top - 28, stroke:'#000', 'stroke-width':2});
      
      
    }
  }
  if (p.title){
    const t = mk('text', g, {x:left + AX_W / 2, y:top - 23, 'text-anchor':'middle', 'font-size':FS});
    t.textContent = p.title;
    
    
  }

  // colour bar
  const cx = CB_LEFT[p.col], cy0 = p.cbTop, cy1 = bottom;
  const cbY = v => cy1 - (v - p.vmin) / (p.vmax - p.vmin) * (cy1 - cy0);
  for (let b = 0; b < BANDS; b++){
    const v0 = p.vmin + (p.vmax - p.vmin) * b / BANDS, v1 = p.vmin + (p.vmax - p.vmin) * (b + 1) / BANDS;
    const seg = mk('rect', g, {x:cx, y:cbY(v1), width:CB_W, height:cbY(v0) - cbY(v1) + 0.5, fill:colorAt((b + 0.5) / BANDS)});
    
    
  }
  const cbf = mk('rect', g, {x:cx, y:cy0, width:CB_W, height:cy1 - cy0, fill:'none', stroke:'#000', 'stroke-width':2.8});
  
  
  p.cbTicks.forEach(v => {
    const y = cbY(v);
    const tick = mk('line', g, {x1:cx + CB_W, x2:cx + CB_W + 13.5, y1:y, y2:y, stroke:'#000', 'stroke-width':2.7});
    
    
    const t = mk('text', g, {x:cx + CB_W + 27, y:y + 11.5, 'font-size':FS});
    t.textContent = String(v);
    
    
  });
  const u = mk('text', g, {x:cx + CB_W / 2, y:top - (p.unit === 'K' ? 12 : 19), 'text-anchor':'middle', 'font-size':FS});
  u.textContent = p.unit;
  
  
}
panels.forEach(drawPanel);
</script>
</body></html>
